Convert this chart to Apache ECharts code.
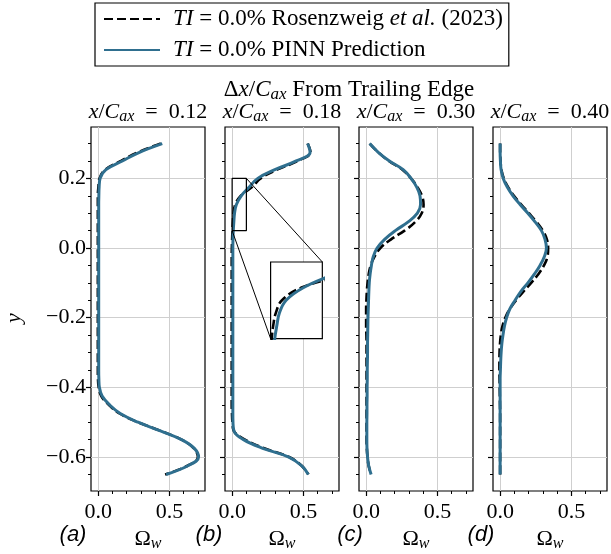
<!DOCTYPE html>
<html><head><meta charset="utf-8">
<script src="https://cdn.jsdelivr.net/npm/echarts@6/dist/echarts.min.js"></script>
<style>html,body{margin:0;padding:0;background:#fff;} #c{width:611px;height:554px;}</style>
</head><body><div id="c"></div>
<script>
// ---------------- DATA ----------------
const yValues = [0.3, 0.275, 0.25, 0.225, 0.2, 0.175, 0.15, 0.125, 0.1, 0.075, 0.05, 0.025, 0,
  -0.025, -0.05, -0.075, -0.1, -0.125, -0.15, -0.175, -0.2, -0.225, -0.25, -0.275, -0.3, -0.325,
  -0.35, -0.375, -0.4, -0.425, -0.45, -0.475, -0.5, -0.525, -0.55, -0.575, -0.6, -0.625, -0.65];

const refA  = [0.44, 0.28, 0.16, 0.05, 0.01, 0.002, -0.002, -0.002, -0.002, -0.002, -0.002, -0.002, -0.002,
  -0.002, -0.002, -0.002, -0.002, -0.002, -0.002, -0.002, -0.002, -0.002, -0.002, -0.002, -0.002, -0.002,
  -0.002, -0.001, 0.004, 0.022, 0.075, 0.15, 0.28, 0.44, 0.585, 0.672, 0.7, 0.628, 0.47];
const pinnA = [0.45, 0.29, 0.17, 0.055, 0.014, 0.007, 0.005, 0.004, 0.004, 0.004, 0.004, 0.004, 0.004,
  0.004, 0.004, 0.004, 0.004, 0.004, 0.004, 0.004, 0.004, 0.004, 0.004, 0.004, 0.004, 0.004,
  0.004, 0.005, 0.009, 0.028, 0.08, 0.155, 0.28, 0.437, 0.585, 0.675, 0.705, 0.63, 0.477];

const refB  = [0.53, 0.55, 0.46, 0.315, 0.2, 0.14, 0.06, 0.022, 0.01, 0.005, 0.002, 0.0, -0.002,
  -0.003, -0.003, -0.003, -0.003, -0.003, -0.003, -0.003, -0.003, -0.003, -0.003, -0.003, -0.003, -0.003,
  -0.003, -0.003, -0.003, -0.003, -0.003, -0.001, 0.002, 0.012, 0.09, 0.225, 0.4, 0.488, 0.535];
const pinnB = [0.53, 0.547, 0.45, 0.3, 0.18, 0.12, 0.064, 0.03, 0.017, 0.012, 0.008, 0.006, 0.005,
  0.005, 0.005, 0.005, 0.005, 0.005, 0.005, 0.005, 0.005, 0.005, 0.005, 0.005, 0.005, 0.005,
  0.005, 0.005, 0.005, 0.005, 0.005, 0.005, 0.006, 0.013, 0.08, 0.215, 0.398, 0.488, 0.535];

const refC  = [0.025, 0.085, 0.16, 0.255, 0.315, 0.36, 0.392, 0.403, 0.39, 0.345, 0.27, 0.175, 0.1,
  0.058, 0.032, 0.018, 0.01, 0.005, 0.002, 0.0, 0.0, 0.0, 0.002, 0.003, 0.003, 0.003,
  0.003, 0.003, 0.003, 0.003, 0.003, 0.003, 0.003, 0.003, 0.003, 0.005, 0.01, 0.018, 0.035];
const pinnC = [0.025, 0.085, 0.163, 0.26, 0.315, 0.355, 0.378, 0.382, 0.36, 0.295, 0.205, 0.13, 0.077,
  0.05, 0.037, 0.028, 0.022, 0.019, 0.017, 0.015, 0.013, 0.012, 0.011, 0.01, 0.01, 0.009,
  0.008, 0.008, 0.007, 0.007, 0.006, 0.006, 0.005, 0.005, 0.005, 0.006, 0.01, 0.018, 0.035];

const refD  = [0.0, 0.0, 0.003, 0.009, 0.026, 0.056, 0.097, 0.148, 0.202, 0.255, 0.3, 0.328, 0.337,
  0.332, 0.308, 0.268, 0.218, 0.163, 0.112, 0.068, 0.036, 0.016, 0.005, -0.001, -0.004, -0.005,
  -0.005, -0.004, -0.003, -0.002, -0.001, 0.0, 0.0, 0.0, 0.0, 0.0, 0.0, 0.0, 0.0];
const pinnD = [0.0, 0.0, 0.002, 0.007, 0.022, 0.05, 0.09, 0.14, 0.195, 0.245, 0.29, 0.315, 0.325,
  0.31, 0.28, 0.24, 0.195, 0.145, 0.105, 0.068, 0.045, 0.03, 0.02, 0.012, 0.007, 0.004,
  0.002, 0.0, 0.0, 0.0, 0.0, 0.0, 0.0, 0.0, 0.0, 0.0, 0.0, 0.0, 0.0];

const refSeries  = [refA, refB, refC, refD];
const pinnSeries = [pinnA, pinnB, pinnC, pinnD];
const panelLetters = ['(a)', '(b)', '(c)', '(d)'];
const positionLabels = ['0.12', '0.18', '0.30', '0.40'];
const xMajorTicks = [0, 0.5];
const xMinorTicks = [0.1, 0.2, 0.3, 0.4, 0.6, 0.7];
const yMajorTicks = [-0.6, -0.4, -0.2, 0, 0.2];
const yMinorTicks = [-0.65, -0.55, -0.5, -0.45, -0.35, -0.3, -0.25, -0.15, -0.1, -0.05, 0.05, 0.1, 0.15, 0.25, 0.3];
const zoomX = [0, 0.1];       // zoomed region (panel b)
const zoomY = [0.05, 0.2];
const refName  = 'TI = 0.0% Rosenzweig et al. (2023)';
const pinnName = 'TI = 0.0% PINN Prediction';

// ---------------- LAYOUT / STYLE ----------------
const L = [91, 225, 359, 493], T = 127, W = 114, H = 364;
const XMIN = -0.05, XMAX = 0.75, YMIN = -0.6975, YMAX = 0.3475;
const insetBoxX = [0.27, 0.633], insetBoxY = [-0.26, -0.04]; // inset placement in panel (b) coordinates
const letterX = [73, 209, 350, 481];
const SERIF = '"Liberation Serif", "DejaVu Serif", serif';
const SANS = '"Liberation Sans", Arial, sans-serif';
const BLUE = '#2f6f8f';
const GRIDC = '#cfcfcf';
const FS = 22;
const FSL = 23;

function px(i, x) { return L[i] + (x - XMIN) / (XMAX - XMIN) * W; }
function py(y) { return T + (YMAX - y) / (YMAX - YMIN) * H; }

const grids = [], xAxes = [], yAxes = [], series = [];
for (let i = 0; i < 4; i++) {
  grids.push({left: L[i], top: T, width: W, height: H, show: true, borderColor: '#000', borderWidth: 1.2, backgroundColor: '#fff'});
  xAxes.push({
    gridIndex: i, type: 'value', min: XMIN, max: XMAX,
    axisLine: {show: false, onZero: false},
    axisTick: {show: true, customValues: xMajorTicks, length: 5, lineStyle: {color: '#000', width: 1.2}},
    axisLabel: {show: true, customValues: xMajorTicks, formatter: v => v.toFixed(1), margin: 10,
      fontFamily: SERIF, fontSize: FS, color: '#000'},
    splitLine: {show: true, lineStyle: {color: GRIDC, width: 1}}
  });
  xAxes.push({
    gridIndex: i, type: 'value', min: XMIN, max: XMAX, position: 'bottom',
    axisLine: {show: false, onZero: false},
    axisTick: {show: true, customValues: xMinorTicks, length: 3, lineStyle: {color: '#000', width: 1}},
    axisLabel: {show: false}, splitLine: {show: false}
  });
  yAxes.push({
    gridIndex: i, type: 'value', min: YMIN, max: YMAX,
    axisLine: {show: false, onZero: false},
    axisTick: {show: true, customValues: yMajorTicks, length: 5, lineStyle: {color: '#000', width: 1.2}},
    axisLabel: {show: i === 0, customValues: yMajorTicks, formatter: v => v.toFixed(1).replace('-', '\u2212'),
      margin: 5, fontFamily: SERIF, fontSize: FS, color: '#000'},
    splitLine: {show: true, lineStyle: {color: GRIDC, width: 1}}
  });
  yAxes.push({
    gridIndex: i, type: 'value', min: YMIN, max: YMAX, position: 'left',
    axisLine: {show: false, onZero: false},
    axisTick: {show: true, customValues: yMinorTicks, length: 3, lineStyle: {color: '#000', width: 1}},
    axisLabel: {show: false}, splitLine: {show: false}
  });
  series.push({
    name: refName, type: 'line', xAxisIndex: 2 * i, yAxisIndex: 2 * i, smooth: 0.4, symbol: 'none',
    lineStyle: {color: '#000', width: 2.6, type: [9, 4]}, itemStyle: {color: '#000'},
    data: yValues.map((y, k) => [refSeries[i][k], y]), z: 3, silent: true
  });
  series.push({
    name: pinnName, type: 'line', xAxisIndex: 2 * i, yAxisIndex: 2 * i, smooth: 0.4, symbol: 'none',
    lineStyle: {color: BLUE, width: 3}, itemStyle: {color: BLUE},
    data: yValues.map((y, k) => [pinnSeries[i][k], y]), z: 4, silent: true
  });
}

// zoom rectangle + connectors in panel (b)
series.push({
  type: 'line', xAxisIndex: 2, yAxisIndex: 2, symbol: 'none', silent: true, z: 5,
  lineStyle: {color: '#000', width: 1.2},
  data: [[zoomX[0], zoomY[0]], [zoomX[1], zoomY[0]], [zoomX[1], zoomY[1]], [zoomX[0], zoomY[1]], [zoomX[0], zoomY[0]]]
});
series.push({
  type: 'line', xAxisIndex: 2, yAxisIndex: 2, symbol: 'none', silent: true, z: 5,
  lineStyle: {color: '#000', width: 1},
  data: [[zoomX[1], zoomY[1]], [insetBoxX[1], insetBoxY[1]]]
});
series.push({
  type: 'line', xAxisIndex: 2, yAxisIndex: 2, symbol: 'none', silent: true, z: 5,
  lineStyle: {color: '#000', width: 1},
  data: [[zoomX[0], zoomY[0]], [insetBoxX[0], insetBoxY[0]]]
});

// inset grid
const insL = px(1, insetBoxX[0]), insR = px(1, insetBoxX[1]);
const insT = py(insetBoxY[1]), insB = py(insetBoxY[0]);
grids.push({left: insL, top: insT, width: insR - insL, height: insB - insT, show: true,
  borderColor: '#000', borderWidth: 1.2, backgroundColor: '#fff', z: 10});
xAxes.push({gridIndex: 4, type: 'value', min: zoomX[0], max: zoomX[1], z: 10,
  axisLine: {show: false}, axisTick: {show: false}, axisLabel: {show: false}, splitLine: {show: false}});
yAxes.push({gridIndex: 4, type: 'value', min: zoomY[0], max: zoomY[1], z: 10,
  axisLine: {show: false}, axisTick: {show: false}, axisLabel: {show: false}, splitLine: {show: false}});
series.push({
  type: 'line', xAxisIndex: 8, yAxisIndex: 8, smooth: 0.4, symbol: 'none', silent: true, z: 12,
  lineStyle: {color: '#000', width: 2.6, type: [9, 4]},
  data: yValues.map((y, k) => [refB[k], y])
});
series.push({
  type: 'line', xAxisIndex: 8, yAxisIndex: 8, smooth: 0.4, symbol: 'none', silent: true, z: 13,
  lineStyle: {color: BLUE, width: 3},
  data: yValues.map((y, k) => [pinnB[k], y])
});

// texts
function richSet(fs) {
  return {
    n: {fontFamily: SERIF, fontSize: fs, fill: '#000', lineHeight: 26},
    i: {fontFamily: SERIF, fontSize: fs, fontStyle: 'italic', fill: '#000', lineHeight: 26},
    s: {fontFamily: SERIF, fontSize: Math.round(fs * 0.72), fontStyle: 'italic', fill: '#000', lineHeight: 14, verticalAlign: 'bottom'}
  };
}
const graphics = [];
graphics.push({type: 'text', x: (L[0] + L[3] + W) / 2, y: 90, z: 20, style: {
  text: '{n|\u0394}{i|x}{n|/}{i|C}{s|ax}{n| From Trailing Edge}', align: 'center', verticalAlign: 'middle', rich: richSet(FSL)}});
for (let i = 0; i < 4; i++) {
  graphics.push({type: 'text', x: L[i] + W / 2, y: 112, z: 20, style: {
    text: '{i|x}{n|/}{i|C}{s|ax}{n|  =  ' + positionLabels[i] + '}', align: 'center', verticalAlign: 'middle', rich: richSet(FS)}});
  graphics.push({type: 'text', x: L[i] + W / 2, y: 539, z: 20, style: {
    text: '{n|\u03A9}{s|w}', align: 'center', verticalAlign: 'middle', rich: richSet(FS)}});
  graphics.push({type: 'text', x: letterX[i], y: 535, z: 20, style: {
    text: panelLetters[i], align: 'center', verticalAlign: 'middle',
    fontFamily: SANS, fontStyle: 'italic', fontSize: FS, fill: '#000'}});
}
graphics.push({type: 'text', x: 14, y: 318, rotation: Math.PI / 2, z: 20, style: {
  text: 'y', align: 'center', verticalAlign: 'middle', fontFamily: SERIF, fontStyle: 'italic', fontSize: FS, fill: '#000'}});

const option = {
  animation: false,
  backgroundColor: '#fff',
  grid: grids, xAxis: xAxes, yAxis: yAxes, series: series, graphic: graphics,
  legend: {
    left: 95, top: 3, orient: 'vertical', data: [refName, pinnName],
    itemWidth: 56, itemHeight: 14, itemGap: 5,
    itemStyle: {opacity: 0},
    borderColor: '#000', borderWidth: 1.2, borderRadius: 0, padding: [3, 6, 3, 8],
    selectedMode: false,
    textStyle: {fontFamily: SERIF, fontSize: FSL, color: '#000', lineHeight: 26, padding: [0, 0, 0, 8],
      rich: {
        i: {fontFamily: SERIF, fontSize: FSL, fontStyle: 'italic', color: '#000', lineHeight: 26},
        n: {fontFamily: SERIF, fontSize: FSL, color: '#000', lineHeight: 26}
      }},
    formatter: function (name) {
      if (name === refName) return '{i|TI}{n| = 0.0% Rosenzweig }{i|et al.}{n| (2023)}';
      return '{i|TI}{n| = 0.0% PINN Prediction}';
    }
  }
};
const chart = echarts.init(document.getElementById('c'), null, {renderer: 'canvas', width: 611, height: 554});
chart.setOption(option);
</script>
</body></html>
